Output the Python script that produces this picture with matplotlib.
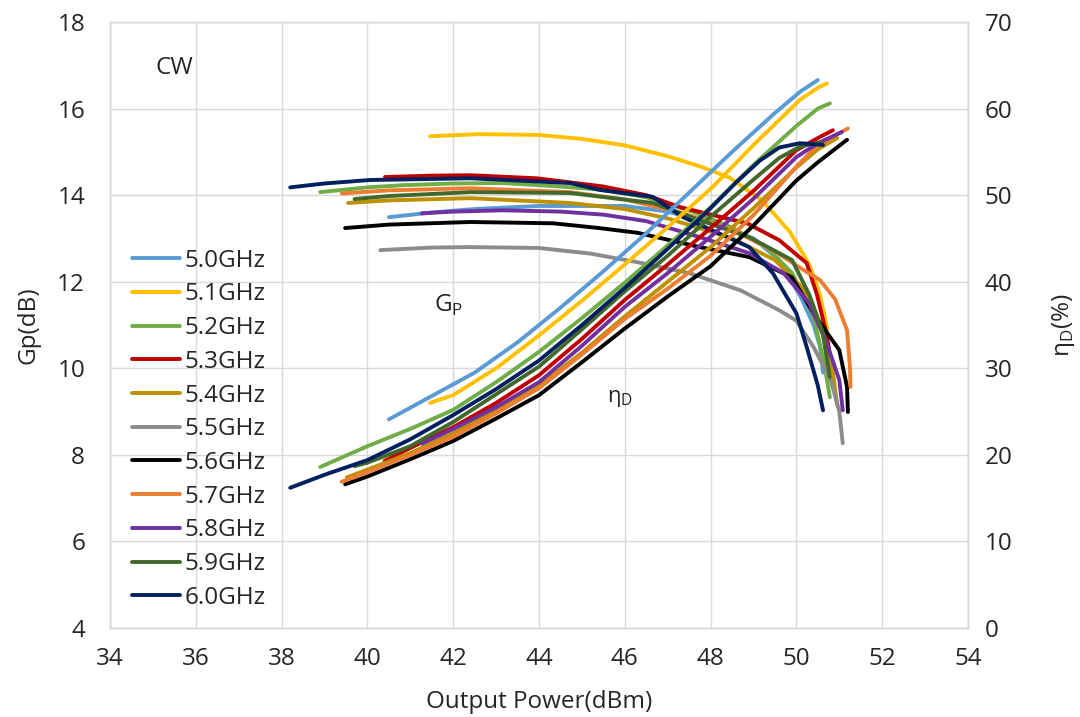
import matplotlib
matplotlib.use("Agg")
import matplotlib.pyplot as plt

plt.rcParams['font.family'] = ['Open Sans', 'DejaVu Sans']

labels = ['5.0GHz', '5.1GHz', '5.2GHz', '5.3GHz', '5.4GHz', '5.5GHz',
          '5.6GHz', '5.7GHz', '5.8GHz', '5.9GHz', '6.0GHz']
colors = ['#5B9BD5', '#FFC000', '#70AD47', '#C00000', '#BF9000', '#8C8C8C',
          '#000000', '#ED7D31', '#7030A0', '#43682B', '#002060']

# Gain curves (Pout dBm, Gp dB)
g50_x = [40.5, 41.5, 42.5, 44.0, 46.0, 47.0, 48.0, 49.0, 49.6, 50.1, 50.4, 50.55, 50.62]
g50_y = [13.49, 13.6, 13.68, 13.75, 13.75, 13.62, 13.35, 13.0, 12.5, 11.65, 11.0, 10.5, 9.9]
g51_x = [41.46, 42.6, 44.0, 45.0, 46.0, 47.0, 47.8, 48.45, 49.2, 49.85, 50.3, 50.55, 50.72]
g51_y = [15.36, 15.41, 15.39, 15.3, 15.15, 14.9, 14.65, 14.4, 13.88, 13.15, 12.4, 11.7, 10.9]
g52_x = [38.9, 40.0, 40.83, 42.0, 43.16, 44.5, 45.5, 46.5, 47.5, 48.5, 49.3, 49.9, 50.4, 50.65, 50.78]
g52_y = [14.07, 14.18, 14.23, 14.27, 14.28, 14.2, 14.12, 13.95, 13.65, 13.25, 12.8, 12.2, 11.2, 10.1, 9.33]
g53_x = [40.41, 41.5, 42.4, 43.95, 45.5, 46.5, 47.3, 48.85, 49.6, 50.24, 50.48, 50.7, 50.84]
g53_y = [14.42, 14.45, 14.46, 14.39, 14.2, 14.0, 13.72, 13.35, 12.96, 12.43, 11.7, 10.8, 9.95]
g54_x = [39.55, 40.5, 42.4, 44.72, 46.0, 47.05, 48.5, 49.5, 50.2, 50.6, 50.85, 50.95]
g54_y = [13.82, 13.88, 13.93, 13.82, 13.68, 13.45, 13.0, 12.5, 11.8, 10.9, 9.9, 9.15]
g55_x = [40.3, 41.5, 42.4, 44.0, 45.2, 46.3, 47.5, 48.7, 49.6, 50.0, 50.4, 50.8, 51.0, 51.08]
g55_y = [12.73, 12.79, 12.8, 12.78, 12.65, 12.45, 12.2, 11.8, 11.34, 11.1, 10.49, 9.73, 9.0, 8.27]
g56_x = [39.48, 40.5, 42.4, 44.33, 45.4, 46.3, 47.75, 48.9, 49.9, 50.4, 50.8, 51.0, 51.18, 51.2]
g56_y = [13.24, 13.32, 13.38, 13.35, 13.24, 13.13, 12.8, 12.57, 12.1, 11.27, 10.7, 10.42, 9.57, 8.99]
g57_x = [39.4, 40.5, 42.4, 44.72, 46.0, 47.3, 48.5, 49.5, 50.2, 50.55, 50.9, 51.18, 51.25, 51.26]
g57_y = [14.04, 14.11, 14.16, 14.07, 13.9, 13.6, 13.2, 12.7, 12.25, 12.04, 11.6, 10.88, 10.0, 9.57]
g58_x = [41.27, 42.0, 43.16, 44.5, 45.5, 46.5, 47.75, 48.9, 49.7, 50.3, 50.7, 51.0, 51.08]
g58_y = [13.58, 13.62, 13.65, 13.62, 13.55, 13.4, 13.03, 12.66, 12.2, 11.5, 10.6, 9.73, 9.03]
g59_x = [39.7, 40.5, 42.4, 44.72, 46.65, 47.75, 48.9, 49.9, 50.3, 50.6, 50.78]
g59_y = [13.91, 13.98, 14.07, 14.05, 13.82, 13.42, 13.03, 12.5, 11.7, 10.88, 9.8]
g60_x = [38.2, 39.0, 40.06, 42.4, 44.72, 45.42, 46.65, 47.36, 48.9, 49.45, 50.0, 50.24, 50.5, 50.62]
g60_y = [14.18, 14.27, 14.35, 14.39, 14.28, 14.12, 13.96, 13.49, 12.8, 12.2, 11.27, 10.49, 9.6, 9.03]

# Drain efficiency curves (Pout dBm, eta %)
e50_x = [40.5, 41.5, 42.5, 43.5, 44.5, 45.5, 46.5, 47.5, 48.5, 49.5, 50.1, 50.5]
e50_y = [24.1, 26.8, 29.5, 33.0, 37.0, 41.2, 45.6, 50.3, 55.0, 59.5, 62.0, 63.3]
e51_x = [41.46, 42.0, 43.0, 44.0, 45.0, 46.0, 47.0, 48.06, 49.0, 50.08, 50.5, 50.71]
e51_y = [26.0, 26.9, 30.0, 33.8, 37.8, 42.0, 46.3, 51.0, 55.8, 61.0, 62.4, 62.9]
e52_x = [38.9, 40.0, 41.0, 42.0, 43.0, 44.0, 45.0, 46.0, 47.0, 48.0, 49.0, 50.0, 50.5, 50.78]
e52_y = [18.6, 21.0, 23.0, 25.2, 28.4, 31.9, 35.8, 39.9, 44.2, 48.6, 53.5, 58.0, 60.0, 60.6]
e53_x = [40.4, 41.0, 42.0, 43.0, 44.0, 45.0, 46.0, 47.0, 48.0, 49.0, 50.0, 50.5, 50.85]
e53_y = [19.3, 20.8, 23.2, 26.0, 29.2, 33.4, 37.9, 42.0, 46.2, 50.5, 55.2, 56.6, 57.5]
e54_x = [39.52, 40.0, 41.0, 42.0, 43.0, 44.0, 45.0, 46.0, 47.0, 48.0, 49.0, 50.0, 50.5, 50.95]
e54_y = [17.4, 18.3, 20.2, 22.5, 25.1, 28.0, 31.8, 36.0, 40.0, 44.0, 48.5, 53.2, 55.3, 56.6]
e56_x = [39.48, 40.0, 41.0, 42.0, 43.0, 44.0, 45.0, 46.0, 47.0, 48.0, 49.0, 50.0, 50.5, 51.18]
e56_y = [16.6, 17.5, 19.5, 21.6, 24.2, 26.9, 30.7, 34.6, 38.3, 41.8, 46.5, 51.7, 53.8, 56.4]
e57_x = [39.4, 40.0, 41.0, 42.0, 43.0, 44.0, 45.0, 46.0, 47.0, 48.0, 49.0, 50.0, 50.5, 51.2]
e57_y = [16.9, 18.0, 20.0, 22.1, 24.8, 27.7, 31.6, 35.7, 39.2, 43.0, 47.7, 53.3, 55.8, 57.7]
e58_x = [41.27, 42.0, 43.0, 44.0, 45.0, 46.0, 47.0, 48.0, 49.0, 50.0, 50.5, 51.06]
e58_y = [21.3, 23.0, 25.5, 28.4, 32.6, 37.1, 41.0, 45.2, 49.6, 54.4, 56.0, 57.3]
e59_x = [39.7, 40.0, 41.0, 42.0, 43.0, 44.0, 45.0, 46.0, 47.0, 48.0, 49.0, 49.6, 50.08, 50.55]
e59_y = [18.7, 19.1, 21.0, 23.8, 27.0, 30.2, 34.5, 38.9, 43.0, 47.5, 51.8, 54.3, 55.6, 56.1]
e60_x = [38.2, 39.0, 40.0, 41.0, 42.0, 43.0, 44.0, 45.0, 46.0, 47.0, 48.0, 48.6, 49.15, 49.6, 50.08, 50.62]
e60_y = [16.2, 17.7, 19.4, 21.8, 24.6, 27.6, 30.9, 35.0, 39.3, 43.8, 48.5, 51.5, 54.0, 55.5, 56.0, 55.8]

gain = [(g50_x, g50_y), (g51_x, g51_y), (g52_x, g52_y), (g53_x, g53_y), (g54_x, g54_y),
        (g55_x, g55_y), (g56_x, g56_y), (g57_x, g57_y), (g58_x, g58_y), (g59_x, g59_y),
        (g60_x, g60_y)]
eff = [(e50_x, e50_y), (e51_x, e51_y), (e52_x, e52_y), (e53_x, e53_y), (e54_x, e54_y),
       None, (e56_x, e56_y), (e57_x, e57_y), (e58_x, e58_y), (e59_x, e59_y),
       (e60_x, e60_y)]

fig = plt.figure(figsize=(10.8, 7.17), dpi=100)
ax = fig.add_axes([0.1019, 0.1241, 0.7944, 0.8452])
ax2 = ax.twinx()

grid_c = '#D9D9D9'
for a in (ax, ax2):
    for s in a.spines.values():
        s.set_color(grid_c)
        s.set_linewidth(1.0)

ax.set_xlim(34, 54)
ax.set_ylim(4, 18)
ax2.set_ylim(0, 70)
ax.set_xticks(range(34, 55, 2))
ax.set_yticks(range(4, 19, 2))
ax2.set_yticks(range(0, 71, 10))
ax.grid(True, color=grid_c, linewidth=1.0)
ax.set_axisbelow(True)

lw = 2.8
lines = []
for i in range(len(labels)):
    gx, gy = gain[i]
    l, = ax.plot(gx, gy, color=colors[i], lw=lw, solid_capstyle='round',
                 solid_joinstyle='round', label=labels[i])
    lines.append(l)
for i in range(len(labels)):
    if eff[i] is None:
        continue
    ex, ey = eff[i]
    ax2.plot(ex, ey, color=colors[i], lw=lw, solid_capstyle='round', solid_joinstyle='round')

txt_c = '#262626'
fs = 17.5
ax.tick_params(axis='x', labelsize=fs, labelcolor=txt_c, length=0, pad=14)
ax.tick_params(axis='y', labelsize=fs, labelcolor=txt_c, length=0, pad=18)
ax2.tick_params(axis='y', labelsize=fs, labelcolor=txt_c, length=0, pad=12)

ax.set_xlabel('Output Power(dBm)', fontsize=fs, color=txt_c, labelpad=13)
ax.set_ylabel('Gp(dB)', fontsize=fs, color=txt_c, labelpad=12)
ax2.set_ylabel('η$_\\mathregular{D}$(%)', fontsize=fs, color=txt_c, rotation=90, labelpad=27)

ax.text(35.5, 16.93, 'CW', fontsize=fs, color=txt_c, ha='center', va='center')
ax.text(41.9, 11.46, 'G$_\\mathregular{P}$', fontsize=fs, color=txt_c, ha='center', va='center')
ax.text(45.9, 9.3, 'η$_\\mathregular{D}$', fontsize=16, color=txt_c, ha='center', va='center')

leg = ax.legend(handles=lines, loc='upper left', bbox_to_anchor=(0.026, 0.626),
                frameon=False, fontsize=fs, handlelength=1.95, handletextpad=0.2,
                labelspacing=0.40, borderaxespad=0.0, borderpad=0.0)
for t in leg.get_texts():
    t.set_color(txt_c)

fig.savefig('out.png', dpi=100)
